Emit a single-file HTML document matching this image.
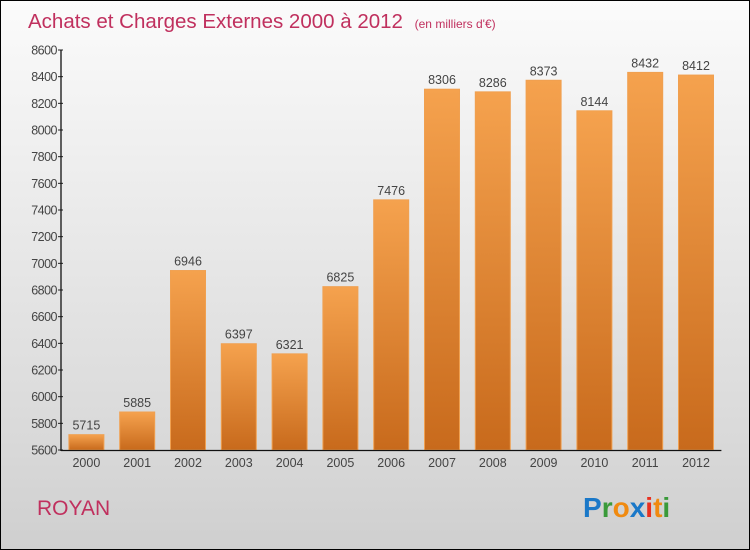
<!DOCTYPE html>
<html><head><meta charset="utf-8"><style>
body{margin:0;}
#c{position:relative;width:748px;height:548px;border:1px solid #000;background:linear-gradient(#fbfbfb,#f0f0f0 25%,#d9d9d9 80%,#cfcfcf);overflow:hidden;font-family:"Liberation Sans",sans-serif;}
</style></head><body>
<div id="c">
<svg width="748" height="548">
<defs><linearGradient id="bg" x1="0" y1="0" x2="0" y2="1"><stop offset="0" stop-color="#f5a24e"/><stop offset="1" stop-color="#c86a1c"/></linearGradient></defs>
<text x="27" y="27" font-size="20.5" fill="#c0305e">Achats et Charges Externes 2000 à 2012 <tspan font-size="12" dx="6">(en milliers d'€)</tspan></text>
<g id="g"></g>
<text x="36" y="514" font-size="21" fill="#c0305e">ROYAN</text>
<text x="582" y="516" font-size="28" font-weight="bold"><tspan fill="#1a78c8">P</tspan><tspan fill="#3a9a3a">r</tspan><tspan fill="#f08a10">o</tspan><tspan fill="#1a78c8">x</tspan><tspan fill="#e83020">i</tspan><tspan fill="#f08a10">t</tspan><tspan fill="#3a9a3a">i</tspan></text>
</svg>
</div>
<script>
const years=["2000","2001","2002","2003","2004","2005","2006","2007","2008","2009","2010","2011","2012"];
const values=[5715,5885,6946,6397,6321,6825,7476,8306,8286,8373,8144,8432,8412];
const ticks=[5600,5800,6000,6200,6400,6600,6800,7000,7200,7400,7600,7800,8000,8200,8400,8600];
const NS="http://www.w3.org/2000/svg",g=document.getElementById('g');
const x0=60,step=50.8,yTop=49,yBot=449,vMin=5600,vMax=8600;
const y=v=>yBot-(v-vMin)/(vMax-vMin)*(yBot-yTop);
function mk(t,a,p){const e=document.createElementNS(NS,t);for(const k in a)e.setAttribute(k,a[k]);(p||g).appendChild(e);return e;}
ticks.forEach(t=>{
const l=mk('line',{x1:x0-3,x2:x0+2,y1:y(t),y2:y(t),stroke:'#222'});


const tx=mk('text',{x:x0-4,y:y(t)+4.5,'font-size':12.5,fill:'#444','text-anchor':'end','letter-spacing':'-0.5'});tx.textContent=t;


});
years.forEach((yr,i)=>{
const cx=x0+step*(i+0.5),v=values[i];
const r=mk('rect',{x:cx-17.5,y:y(v),width:35,height:yBot-y(v),fill:'url(#bg)',stroke:'#f0a050','stroke-width':1});


const lb=mk('text',{x:cx,y:y(v)-5,'font-size':12.5,fill:'#444','text-anchor':'middle'});lb.textContent=v;


const xl=mk('text',{x:cx,y:yBot+17,'font-size':12.5,fill:'#444','text-anchor':'middle'});xl.textContent=yr;


});
const ya=mk('line',{x1:x0,x2:x0,y1:yTop,y2:yBot+1,stroke:'#111','stroke-width':1.3});


const xa=mk('line',{x1:x0,x2:x0+step*13,y1:yBot+0.5,y2:yBot+0.5,stroke:'#111','stroke-width':1.3});


</script>
</body></html>
